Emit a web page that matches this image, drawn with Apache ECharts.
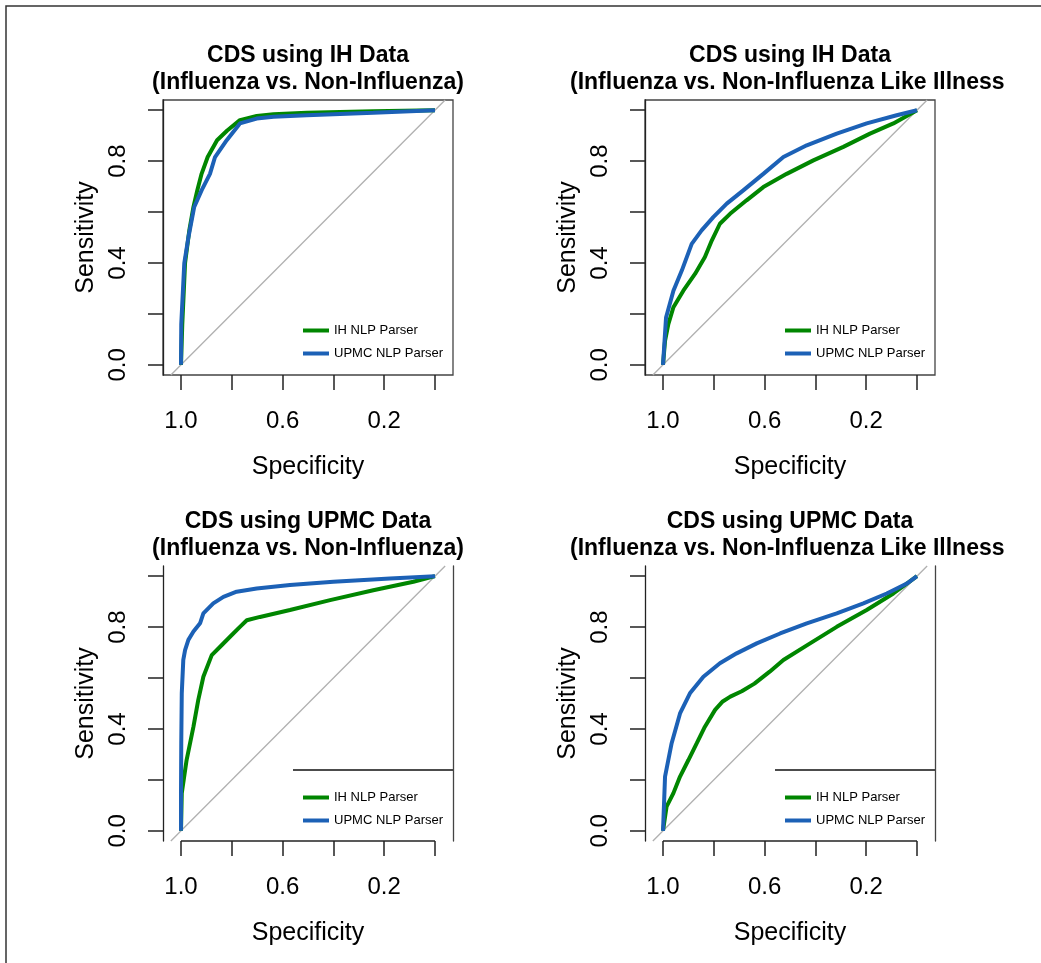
<!DOCTYPE html>
<html><head><meta charset="utf-8">
<script src="https://cdn.jsdelivr.net/npm/echarts@6/dist/echarts.min.js"></script>
<style>html,body{margin:0;padding:0;background:#fff}#c{width:1041px;height:963px}</style>
</head><body><div id="c"></div>
<script>
// ---------- data ----------
const seriesNames = ['IH NLP Parser', 'UPMC NLP Parser'];
const tickValues = [0, 0.2, 0.4, 0.6, 0.8, 1];
const xTickLabels = [1.0, 0.6, 0.2];
const yTickLabels = [0.0, 0.4, 0.8];
const titleLine1 = ['CDS using IH Data', 'CDS using IH Data', 'CDS using UPMC Data', 'CDS using UPMC Data'];
const titleLine2 = ['(Influenza vs. Non-Influenza)', '(Influenza vs. Non-Influenza Like Illness',
                    '(Influenza vs. Non-Influenza)', '(Influenza vs. Non-Influenza Like Illness'];
const diagSpec = [1.04, -0.04];
const diagSens = [-0.04, 1.04];

// Panel 1: IH data, Influenza vs Non-Influenza
const p1IhSpec   = [1, 0.995, 0.984, 0.967, 0.951, 0.936, 0.919, 0.895, 0.858, 0.818, 0.768, 0.702, 0.636, 0.505, 0.374, 0.243, 0];
const p1IhSens   = [0, 0.16, 0.40, 0.53, 0.62, 0.685, 0.75, 0.816, 0.882, 0.92, 0.961, 0.977, 0.984, 0.99, 0.993, 0.996, 1];
const p1UpmcSpec = [1, 0.999, 0.987, 0.971, 0.948, 0.919, 0.886, 0.866, 0.82, 0.768, 0.702, 0.636, 0.505, 0.243, 0];
const p1UpmcSens = [0, 0.16, 0.40, 0.50, 0.62, 0.685, 0.75, 0.816, 0.882, 0.948, 0.967, 0.974, 0.98, 0.99, 1];

// Panel 2: IH data, Influenza vs Non-ILI
const p2IhSpec   = [1, 0.992, 0.979, 0.959, 0.92, 0.874, 0.835, 0.808, 0.776, 0.736, 0.671, 0.605, 0.513, 0.408, 0.29, 0.185, 0.093, 0];
const p2IhSens   = [0, 0.094, 0.16, 0.226, 0.291, 0.357, 0.423, 0.488, 0.554, 0.593, 0.646, 0.698, 0.75, 0.803, 0.856, 0.908, 0.948, 1];
const p2UpmcSpec = [1, 0.988, 0.959, 0.926, 0.887, 0.848, 0.802, 0.749, 0.684, 0.605, 0.526, 0.434, 0.316, 0.198, 0.08, 0];
const p2UpmcSens = [0, 0.186, 0.291, 0.37, 0.475, 0.528, 0.58, 0.633, 0.685, 0.75, 0.816, 0.862, 0.908, 0.948, 0.98, 1];

// Panel 3: UPMC data, Influenza vs Non-Influenza
const p3IhSpec   = [1, 0.997, 0.978, 0.951, 0.932, 0.912, 0.879, 0.846, 0.807, 0.768, 0.741, 0.689, 0.571, 0.413, 0.243, 0.085, 0];
const p3IhSens   = [0, 0.148, 0.278, 0.409, 0.514, 0.605, 0.69, 0.723, 0.762, 0.801, 0.827, 0.84, 0.867, 0.906, 0.945, 0.978, 1];
const p3UpmcSpec = [1, 1, 0.999, 0.997, 0.991, 0.984, 0.971, 0.951, 0.925, 0.912, 0.873, 0.833, 0.781, 0.702, 0.571, 0.4, 0.177, 0];
const p3UpmcSens = [0, 0.148, 0.344, 0.54, 0.671, 0.71, 0.75, 0.783, 0.815, 0.854, 0.893, 0.919, 0.939, 0.952, 0.965, 0.978, 0.991, 1];

// Panel 4: UPMC data, Influenza vs Non-ILI
const p4IhSpec   = [1, 0.986, 0.959, 0.933, 0.9, 0.867, 0.835, 0.795, 0.765, 0.735, 0.69, 0.64, 0.58, 0.526, 0.421, 0.316, 0.198, 0.093, 0];
const p4IhSens   = [0, 0.095, 0.148, 0.213, 0.278, 0.344, 0.409, 0.475, 0.508, 0.527, 0.548, 0.578, 0.625, 0.671, 0.736, 0.801, 0.867, 0.932, 1];
const p4UpmcSpec = [1, 0.992, 0.966, 0.933, 0.894, 0.841, 0.776, 0.71, 0.631, 0.539, 0.434, 0.316, 0.211, 0.119, 0.04, 0];
const p4UpmcSens = [0, 0.213, 0.344, 0.461, 0.54, 0.605, 0.658, 0.697, 0.736, 0.775, 0.815, 0.854, 0.893, 0.932, 0.971, 1];

const panelIh   = [[p1IhSpec, p1IhSens], [p2IhSpec, p2IhSens], [p3IhSpec, p3IhSens], [p4IhSpec, p4IhSens]];
const panelUpmc = [[p1UpmcSpec, p1UpmcSens], [p2UpmcSpec, p2UpmcSens], [p3UpmcSpec, p3UpmcSens], [p4UpmcSpec, p4UpmcSens]];

// ---------- layout ----------
const FONT = '"Liberation Sans", Arial, sans-serif';
const GREEN = '#008600', BLUE = '#1c61b6';
const lefts = [163, 645, 163, 645];
const tops = [100, 100, 566, 566];
const W = 290, H = 275;
const zip = (a, b) => a.map((v, i) => [v, b[i]]);

const grids = [], xAxes = [], yAxes = [], series = [], legends = [], graphics = [];

for (let p = 0; p < 4; p++) {
  const bottomRow = p >= 2;
  grids.push({ left: lefts[p], top: tops[p], width: W, height: H, show: !bottomRow,
               borderColor: '#444', borderWidth: 1.3, containLabel: false });
  xAxes.push({
    type: 'value', gridIndex: p, min: -0.0709, max: 1.0709, inverse: true, position: 'bottom',
    axisLine: { show: false, onZero: false },
    axisTick: { show: true, length: 15, customValues: tickValues, lineStyle: { color: '#222', width: 1.5 } },
    axisLabel: { customValues: xTickLabels, formatter: v => Number(v).toFixed(1), fontSize: 24, color: '#000', margin: 34, fontFamily: FONT },
    splitLine: { show: false },
    name: 'Specificity', nameLocation: 'middle', nameGap: 80,
    nameTextStyle: { fontSize: 25, color: '#000', fontFamily: FONT }
  });
  yAxes.push({
    type: 'value', gridIndex: p, min: -0.04, max: 1.04, position: 'left',
    axisLine: { show: true, onZero: false, lineStyle: { color: '#222', width: 1.3 } },
    axisTick: { show: true, length: 15, customValues: tickValues, lineStyle: { color: '#222', width: 1.5 } },
    axisLabel: { customValues: yTickLabels, formatter: v => Number(v).toFixed(1), rotate: 90, fontSize: 24, color: '#000', margin: 33, fontFamily: FONT },
    splitLine: { show: false },
    name: 'Sensitivity', nameLocation: 'middle', nameGap: 64,
    nameTextStyle: { fontSize: 25, color: '#000', fontFamily: FONT }
  });
  if (bottomRow) {
    yAxes.push({
      type: 'value', gridIndex: p, min: -0.04, max: 1.04, position: 'right',
      axisLine: { show: true, onZero: false, lineStyle: { color: '#444', width: 1.3 } },
      axisTick: { show: false }, axisLabel: { show: false }, splitLine: { show: false }
    });
  }
  const yIdx = yAxes.length - (bottomRow ? 2 : 1);
  series.push({
    type: 'line', xAxisIndex: p, yAxisIndex: yIdx, data: zip(diagSpec, diagSens),
    showSymbol: false, silent: true, clip: false,
    lineStyle: { color: '#b0b0b0', width: 1.3 }, z: 1
  });
  series.push({
    type: 'line', name: seriesNames[0], xAxisIndex: p, yAxisIndex: yIdx,
    data: zip(panelIh[p][0], panelIh[p][1]), showSymbol: false, clip: false,
    itemStyle: { color: GREEN }, lineStyle: { color: GREEN, width: 4 }, z: 2
  });
  series.push({
    type: 'line', name: seriesNames[1], xAxisIndex: p, yAxisIndex: yIdx,
    data: zip(panelUpmc[p][0], panelUpmc[p][1]), showSymbol: false, clip: false,
    itemStyle: { color: BLUE }, lineStyle: { color: BLUE, width: 4 }, z: 3
  });
  legends.push({
    data: seriesNames, orient: 'vertical', left: lefts[p] + 135, top: tops[p] + (bottomRow ? 220 : 219),
    icon: 'rect', itemWidth: 26, itemHeight: 4, itemGap: 10, selectedMode: false,
    textStyle: { fontSize: 13, color: '#000', fontFamily: FONT }
  });
  // titles
  const cx = lefts[p] + W / 2;
  graphics.push({ type: 'text', x: cx, y: tops[p] - 44,
    style: { text: titleLine1[p], align: 'center', verticalAlign: 'middle', font: 'bold 23px ' + FONT, fill: '#000' } });
  const isRight = (p % 2) === 1;
  graphics.push({ type: 'text', x: isRight ? lefts[p] - 75 : cx, y: tops[p] - 17,
    style: { text: titleLine2[p], align: isRight ? 'left' : 'center', verticalAlign: 'middle', font: 'bold 23px ' + FONT, fill: '#000' } });
  if (bottomRow) {
    // partial axis line and legend box top edge as drawn in the original
    graphics.push({ type: 'line', shape: { x1: lefts[p] + 18, y1: tops[p] + H, x2: lefts[p] + 272, y2: tops[p] + H },
      style: { stroke: '#222', lineWidth: 1.3 } });
    graphics.push({ type: 'line', shape: { x1: lefts[p] + 130, y1: tops[p] + 204, x2: lefts[p] + W, y2: tops[p] + 204 },
      style: { stroke: '#111', lineWidth: 1.3 } });
  }
}
graphics.push({ type: 'rect', shape: { x: 6, y: 6, width: 1100, height: 1000 },
  style: { fill: 'none', stroke: '#333', lineWidth: 1.5 }, z: -1 });

const chart = echarts.init(document.getElementById('c'));
chart.setOption({
  animation: false,
  backgroundColor: '#fff',
  textStyle: { fontFamily: FONT },
  grid: grids, xAxis: xAxes, yAxis: yAxes, series: series, legend: legends, graphic: graphics
});
</script></body></html>
